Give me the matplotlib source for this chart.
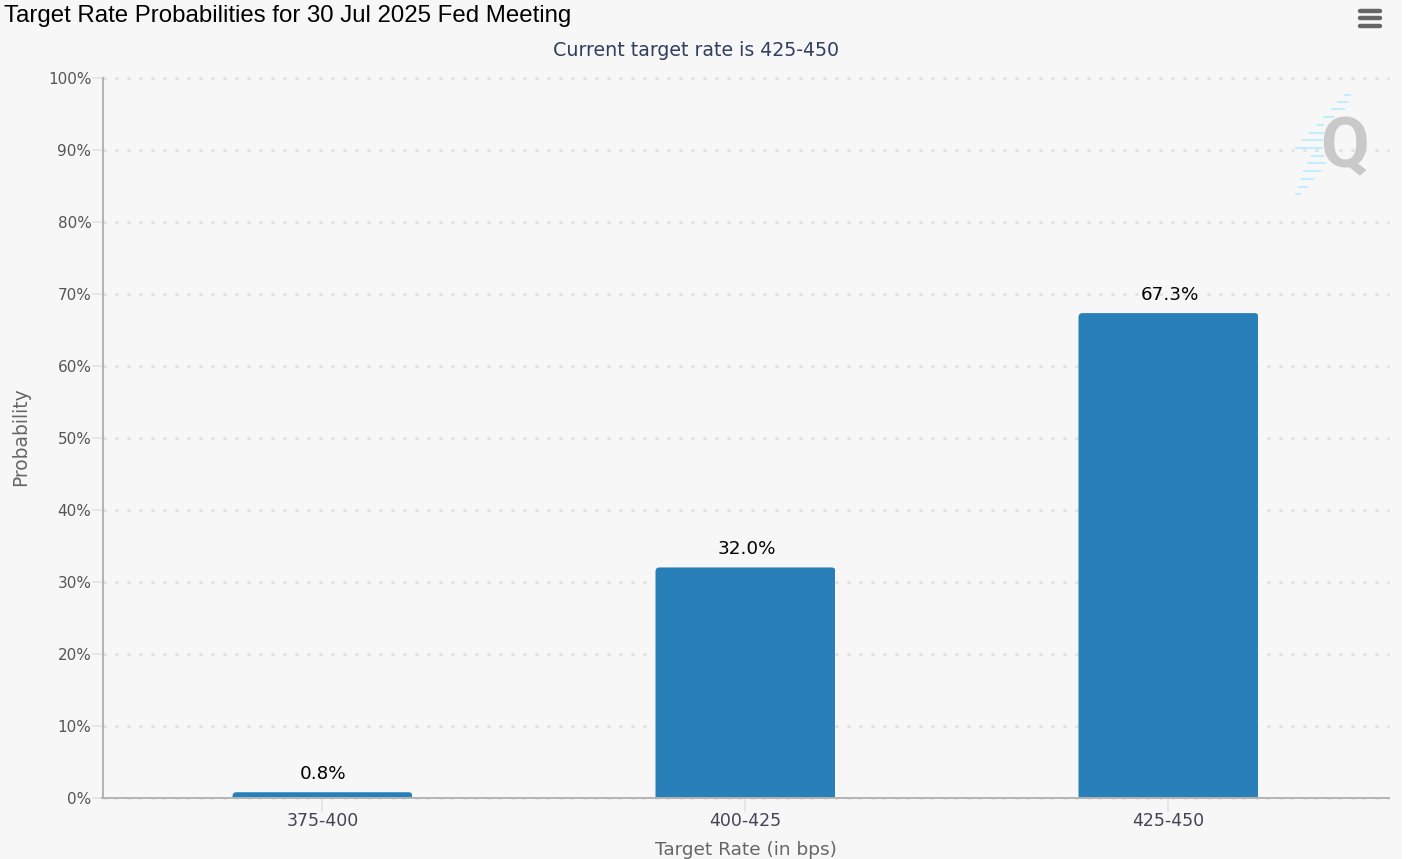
import matplotlib
matplotlib.use("Agg")
import matplotlib.pyplot as plt
from matplotlib.patches import FancyBboxPatch, Rectangle
from matplotlib.lines import Line2D

# Data
rates = ["375-400", "400-425", "425-450"]
probs = [0.8, 32.0, 67.3]
prob_labels = ["0.8%", "32.0%", "67.3%"]
y_ticks = [0, 10, 20, 30, 40, 50, 60, 70, 80, 90, 100]
y_tick_labels = [f"{v}%" for v in y_ticks]

W, H = 1420, 859
bg = "#f7f7f7"
bar_color = "#2980b9"
label_font = ["DejaVu Sans"]


def fx(x):
    return x / W


def fy(y):
    return 1 - y / H


fig = plt.figure(figsize=(W / 100, H / 100), dpi=100, facecolor="white")
fig.add_artist(Rectangle((0, 0), fx(1402), 1, transform=fig.transFigure, facecolor=bg, edgecolor="none", zorder=-5))

ax = fig.add_axes([fx(102.5), fy(798), fx(1389 - 102.5), (798 - 77.5) / H])
ax.patch.set_visible(False)

x_pos = list(range(len(rates)))
ax.set_xlim(-220 / 423, (1389 - 322.5) / 423)
ax.set_ylim(0, 100)

# Bars, with rounded top corners done through a clip box
bar_w = 180 / 423
rx = 4 / 423
ry = 4 / (720.5 / 100)
bars = ax.bar(x_pos, probs, width=bar_w, color=bar_color, zorder=3)
for b in bars:
    clip = FancyBboxPatch(
        (b.get_x(), -3), b.get_width(), b.get_height() + 3,
        boxstyle=f"round,pad=0,rounding_size={rx}",
        mutation_aspect=ry / rx, transform=ax.transData,
    )
    b.set_clip_path(clip)

for xp, v, lab in zip(x_pos, probs, prob_labels):
    ax.annotate(lab, (xp, v), xytext=(1, 9.5), textcoords="offset pixels", ha="center", va="bottom",
                fontsize=13.2, color="black", family=label_font, zorder=5)

# Grid
ax.set_yticks(y_ticks)
ax.set_yticklabels(y_tick_labels, fontsize=11, color="#555555", family=label_font)
ax.yaxis.grid(True, color="#e2e2e2", linewidth=2.16, linestyle=(0, (1, 3)), zorder=0)
ax.set_axisbelow(True)
ax.tick_params(axis="y", length=8, width=1.4, color="#e6e6e6", pad=0)
for line in ax.get_ygridlines():
    line.set_clip_on(False)

ax.set_xticks(x_pos)
ax.set_xticklabels(rates, fontsize=12.5, color="#444455", family=label_font)
ax.tick_params(axis="x", length=10, width=1.4, color="#e6e6e6", pad=0)

for s in ["top", "right"]:
    ax.spines[s].set_visible(False)
for s in ["left", "bottom"]:
    ax.spines[s].set_color("#b3b3b3")
    ax.spines[s].set_linewidth(1.4)
    ax.spines[s].set_zorder(4)

# Titles and axis labels
fig.text(fx(4), fy(16), "Target Rate Probabilities for 30 Jul 2025 Fed Meeting", ha="left", va="center",
         fontsize=17.25, color="black", family="Liberation Sans")
fig.text(fx(696), fy(51), "Current target rate is 425-450", ha="center", va="center",
         fontsize=13.7, color="#333f60", family=label_font)
fig.text(fx(21), fy(437), "Probability", rotation=90, ha="center", va="center",
         fontsize=13.4, color="#666666", family=label_font)
fig.text(fx(746), fy(850), "Target Rate (in bps)", ha="center", va="center",
         fontsize=13.3, color="#666666", family=label_font)

# Menu icon
for y in [10.5, 18, 25.5]:
    fig.add_artist(Line2D([fx(1359.5), fx(1379.5)], [fy(y), fy(y)], color="#666666", linewidth=3.2,
                          solid_capstyle="round", transform=fig.transFigure))

# Watermark
stripe_y = [94.7, 101.7, 109.3, 117.3, 125, 132.7, 140.3, 148, 155.7, 163.3, 171, 178.7, 186.7, 194]
stripe_x0 = [1345, 1338, 1332, 1324, 1318, 1310, 1303, 1296, 1312, 1308, 1304, 1302, 1299, 1296]
stripe_x1 = [1350, 1347, 1344, 1333, 1323, 1323, 1322, 1322, 1323, 1325, 1320, 1313, 1307, 1300]
for y, x0, x1 in zip(stripe_y, stripe_x0, stripe_x1):
    fig.add_artist(Line2D([fx(x0), fx(x1)], [fy(y), fy(y)], color="#c0eefb", linewidth=1.5,
                          transform=fig.transFigure))
fig.text(fx(1344.5), fy(148), "Q", ha="center", va="center", fontsize=51, fontweight="bold",
         color="#c9c9c9", family="Roboto")

fig.savefig("out.png", dpi=100, facecolor="white")
